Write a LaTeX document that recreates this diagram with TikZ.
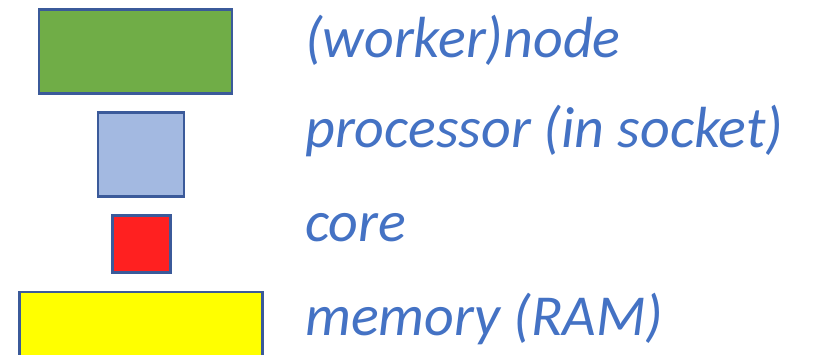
\documentclass[tikz,border=0pt]{standalone}
\usepackage{fontspec}
\setmainfont{Carlito}
\definecolor{edgeblue}{HTML}{3B5A9A}
\definecolor{txtblue}{HTML}{4472C4}
\definecolor{nodegreen}{HTML}{70AD47}
\definecolor{procblue}{HTML}{A3B9E1}
\definecolor{corered}{HTML}{FF2020}
\definecolor{memyellow}{HTML}{FFFF00}

\begin{document}
\begin{tikzpicture}[x=1pt,y=-1pt, box/.style={draw=edgeblue,line width=2.4pt,rectangle,inner sep=0pt}, lbl/.style={anchor=base west,inner sep=0pt,text=txtblue,font=\fontsize{58}{62}\selectfont\itshape}]
    \useasboundingbox (0,0) rectangle (820,355);
    \node[box, fill=nodegreen, minimum width=193pt, minimum height=84pt] (wnode) at (135.5,51.5) {};
    \node[box, fill=procblue, minimum width=86pt, minimum height=84pt] (proc) at (141,154.5) {};
    \node[box, fill=corered, minimum width=58pt, minimum height=57pt] (core) at (141.5,244) {};
    \node[box, fill=memyellow, minimum width=243pt, minimum height=80pt] (mem) at (141,332) {};

    \node[lbl] (wnodel) at (305,58) {(worker)node};
    \node[lbl] (procl) at (305,148) {processor (in socket)};
    \node[lbl] (corel) at (305,242) {core};
    \node[lbl] (meml) at (305,336) {memory (RAM)};
\end{tikzpicture}
\end{document}
